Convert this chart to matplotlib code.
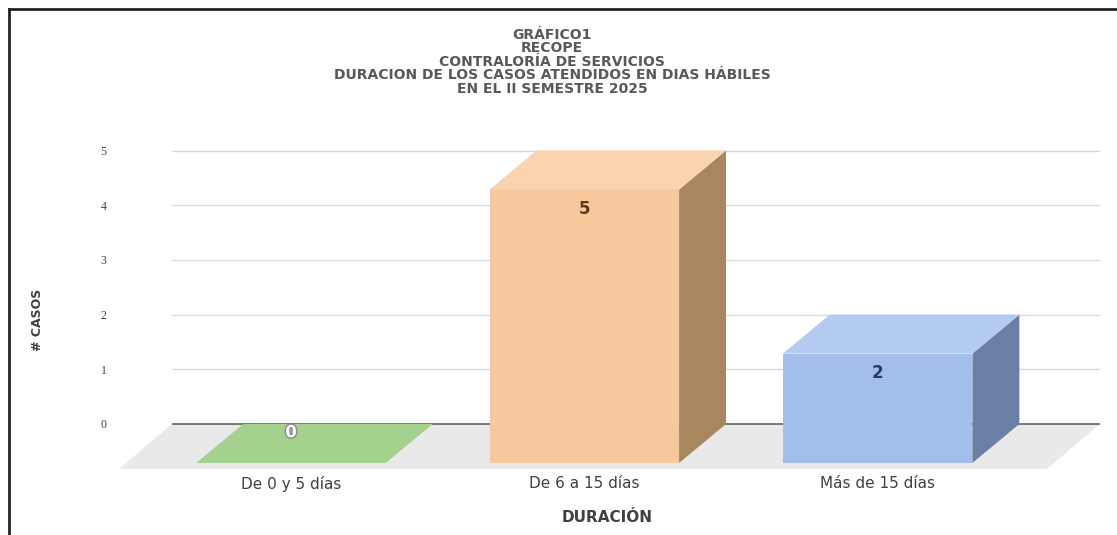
import matplotlib.pyplot as plt
import matplotlib.patheffects as pe
from matplotlib.patches import Polygon
from matplotlib.lines import Line2D

# Datos del gráfico
titulo = [
    "GRÁFICO1",
    "RECOPE",
    "CONTRALORÍA DE SERVICIOS",
    "DURACION DE LOS CASOS ATENDIDOS EN DIAS HÁBILES",
    "EN EL II SEMESTRE 2025",
]
categorias = ["De 0 y 5 días", "De 6 a 15 días", "Más de 15 días"]
casos = [0, 5, 2]
marcas_y = [0, 1, 2, 3, 4, 5]

# Colores de cada barra (frente, tapa, lado) y de su etiqueta
color_frente = ["#a5d18f", "#f6c89b", "#a3beec"]
color_tapa = ["#a5d18f", "#f9d4ae", "#b3caf1"]
color_lado = ["#7fa36c", "#a8865f", "#6b7fa6"]
color_etiqueta = ["white", "#5b3a1c", "#263c63"]

# Falso 3D: profundidad de barras y del piso (en unidades de datos)
ancho = 0.646
prof_x, prof_y = 0.16, 0.713
piso_x, piso_y = 0.18, 0.82
piso_izq, piso_der = -0.566, 2.598

W, H = 1117, 535
fig = plt.figure(figsize=(W / 100, H / 100), dpi=100)
ax = fig.add_axes([115 / W, (H - 472) / H, 995 / W, 332 / H])
ax.set_xlim(-0.760, 2.632)
ax.set_ylim(-0.878, 5.192)
for s in ax.spines.values():
    s.set_visible(False)

# Líneas de cuadrícula en el plano del fondo
ax.hlines(marcas_y[1:], piso_izq, piso_der, color="#d9d9d9", lw=1, zorder=1)

# Piso gris
piso = Polygon(
    [(piso_izq, 0), (piso_der, 0), (piso_der - piso_x, -piso_y), (piso_izq - piso_x, -piso_y)],
    closed=True, facecolor="#e9e9e9", edgecolor="none", zorder=2,
)
ax.add_patch(piso)
ax.hlines(0, piso_izq, piso_der, color="#6e6e6e", lw=1.3, zorder=3)

# Barras
for i, v in enumerate(casos):
    xl = i - prof_x - ancho / 2
    xr = i - prof_x + ancho / 2
    y0 = -prof_y
    y1 = v - prof_y
    if v > 0:
        ax.add_patch(Polygon([(xl, y0), (xr, y0), (xr, y1), (xl, y1)],
                             facecolor=color_frente[i], edgecolor="none", zorder=4))
        ax.add_patch(Polygon([(xr, y0), (xr + prof_x, 0), (xr + prof_x, v), (xr, y1)],
                             facecolor=color_lado[i], edgecolor="none", zorder=4))
    ax.add_patch(Polygon([(xl, y1), (xr, y1), (xr + prof_x, v), (xl + prof_x, v)],
                         facecolor=color_tapa[i], edgecolor="none", zorder=4))

    # Etiqueta de valor (si la barra está vacía queda sobre la tapa)
    y_et = max(v - prof_y - 0.36, -0.15)
    t = ax.text(i - prof_x, y_et, str(v), ha="center", va="center",
                fontsize=12, fontweight="bold", color=color_etiqueta[i], zorder=6)
    if v == 0:
        t.set_path_effects([pe.withStroke(linewidth=2, foreground="#8a8a8a")])

# Ejes
ax.set_yticks(marcas_y)
ax.set_yticklabels([str(m) for m in marcas_y], family="Liberation Serif",
                   fontsize=8.5, color="#404040")
ax.set_xticks([i - prof_x for i in range(len(categorias))])
ax.set_xticklabels(categorias, fontsize=11, color="#404040")
ax.tick_params(axis="y", length=0, pad=6)
ax.tick_params(axis="x", length=0, pad=3)

fig.text(38 / W, 1 - 320 / H, "# CASOS", rotation=90, ha="center", va="center",
         fontsize=9, fontweight="bold", color="#404040")
fig.text(607 / W, 1 - 517 / H, "DURACIÓN", ha="center", va="center",
         fontsize=11, fontweight="bold", color="#404040")

# Título en cinco líneas
for k, linea in enumerate(titulo):
    fig.text(552 / W, 1 - (35 + 13.4 * k) / H, linea, ha="center", va="center",
             fontsize=10, fontweight="bold", color="#595959")

# Borde superior e izquierdo
fig.add_artist(Line2D([8.5 / W, 1], [1 - 8.5 / H, 1 - 8.5 / H], color="#222222", lw=2,
                      transform=fig.transFigure))
fig.add_artist(Line2D([8.5 / W, 8.5 / W], [0, 1 - 8.5 / H], color="#222222", lw=2,
                      transform=fig.transFigure))

fig.savefig("out.png", dpi=100)
